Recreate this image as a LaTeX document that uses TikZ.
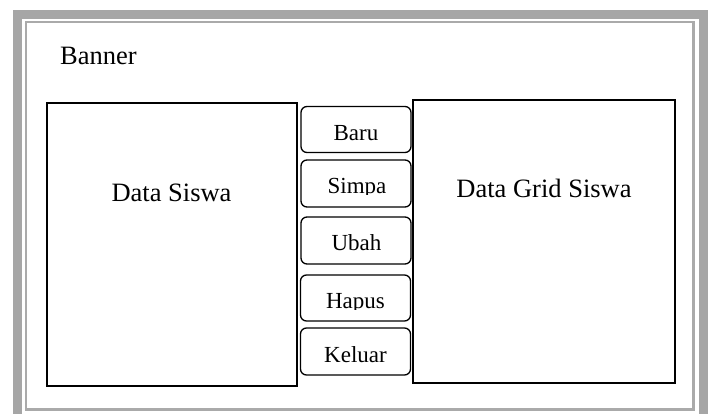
\documentclass[tikz,border=0pt]{standalone}
\usepackage{fontspec}
\setmainfont{Liberation Serif}
\definecolor{framegray}{RGB}{166,166,166}
\definecolor{linegray}{RGB}{170,170,170}
\tikzset{
  panel/.style={draw=black, line width=1.4pt, inner sep=0pt, minimum width=#1},
  btn/.style={draw=black, line width=1.3pt, rounded corners=6pt, inner sep=0pt, minimum width=110pt, minimum height=46pt},
  bigtxt/.style={inner sep=0pt, font=\fontsize{26.5}{30}\selectfont},
  btntxt/.style={inner sep=0pt, font=\fontsize{23}{27}\selectfont},
}
\begin{document}
\begin{tikzpicture}[x=1pt, y=-1pt]
\useasboundingbox (0,0) rectangle (708,414);
\clip (0,0) rectangle (708,414);
\fill[white] (0,0) rectangle (708,414);
% outer frame
\draw[framegray, line width=9pt] (17.5,14.5) rectangle (703,419);
\draw[linegray, line width=2.2pt] (26,22) rectangle (693.5,409.5);
% banner
\node[bigtxt, anchor=base west] (banner) at (60,65) {Banner};
% panels
\node[panel=250pt, minimum height=283pt] (left) at (172,244.5) {};
\node[panel=262pt, minimum height=283pt] (right) at (544,241.5) {};
\node[bigtxt, anchor=base] (leftlbl) at (171.5,201.7) {Data Siswa};
\node[bigtxt, anchor=base] (rightlbl) at (544,197.3) {Data Grid Siswa};
% buttons
\node[btn] (baru) at (356,129.5) {};
\node[btn, minimum height=47pt] (simpan) at (356,183.5) {};
\node[btn, minimum height=47pt] (ubah) at (356,240.5) {};
\node[btn] (hapus) at (355.5,298) {};
\node[btn, minimum height=47pt] (keluar) at (355.5,351.5) {};
\node[btntxt, anchor=base] (barut) at (356,140) {Baru};
\begin{scope}
\clip (300,160) rectangle (412,194.5);
\node[btntxt, anchor=base] (simpant) at (357,193.5) {Simpa};
\end{scope}
\node[btntxt, anchor=base] (ubaht) at (356.5,250) {Ubah};
\begin{scope}
\clip (300,275) rectangle (412,309.5);
\node[btntxt, anchor=base] (hapust) at (355.5,308.5) {Hapus};
\end{scope}
\node[btntxt, anchor=base] (keluart) at (355.5,362) {Keluar};
\end{tikzpicture}
\end{document}
